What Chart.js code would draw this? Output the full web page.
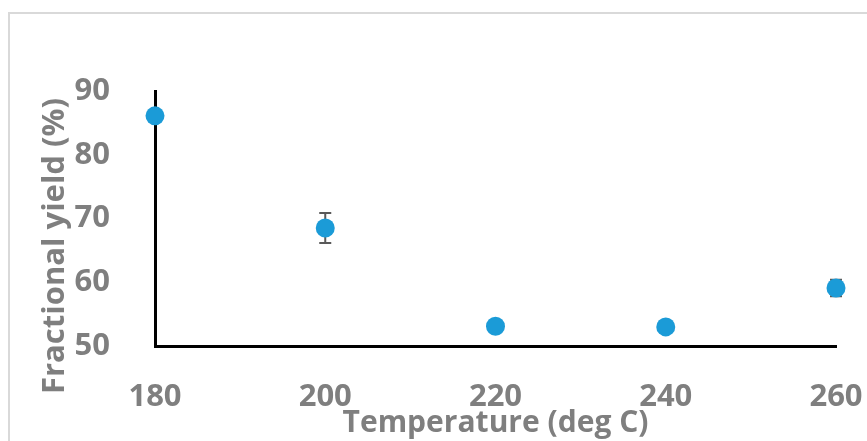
<!DOCTYPE html>
<html>
<head>
<meta charset="utf-8">
<script src="https://cdn.jsdelivr.net/npm/chart.js@4"></script>
<style>
  html, body { margin: 0; padding: 0; background: #fff; }
  #wrap { width: 867px; height: 441px; position: relative; }
</style>
</head>
<body>
<div id="wrap"><canvas id="c" width="867" height="441"></canvas></div>
<script>
const temperatures = [180, 200, 220, 240, 260];
const yields = [86.1, 68.5, 53.1, 53.0, 59.1];
const yieldErrors = [0, 2.35, 0, 0, 1.3];
const xTicks = [180, 200, 220, 240, 260];
const yTicks = [50, 60, 70, 80, 90];
const xTitle = 'Temperature (deg C)';
const yTitle = 'Fractional yield (%)';

const GRAY = '#7f7f7f';
const FONT = "'Open Sans', 'Liberation Sans', sans-serif";

function fitFont(ctx, text, targetWidth) {
  ctx.font = "bold 100px " + FONT;
  const w = ctx.measureText(text).width;
  return 100 * targetWidth / w;
}

const decor = {
  id: 'decor',
  beforeDraw(chart) {
    const ctx = chart.ctx;
    ctx.save();
    ctx.strokeStyle = '#d9d9d9';
    ctx.lineWidth = 2;
    ctx.strokeRect(9, 13, 870, 450);
    ctx.restore();
  },
  beforeDatasetsDraw(chart) {
    const ctx = chart.ctx;
    const xs = chart.scales.x, ys = chart.scales.y;
    ctx.save();
    ctx.strokeStyle = '#595959';
    ctx.lineWidth = 2;
    temperatures.forEach((t, i) => {
      const e = yieldErrors[i];
      if (!e) return;
      const px = xs.getPixelForValue(t);
      const y1 = ys.getPixelForValue(yields[i] + e);
      const y2 = ys.getPixelForValue(yields[i] - e);
      ctx.beginPath();
      ctx.moveTo(px, y1); ctx.lineTo(px, y2);
      ctx.moveTo(px - 6, y1); ctx.lineTo(px + 6, y1);
      ctx.moveTo(px - 6, y2); ctx.lineTo(px + 6, y2);
      ctx.stroke();
    });
    ctx.restore();
  },
  afterDraw(chart) {
    const ctx = chart.ctx;
    const a = chart.chartArea;
    ctx.save();
    ctx.fillStyle = GRAY;
    ctx.textAlign = 'center';
    ctx.textBaseline = 'alphabetic';
    const sx = fitFont(ctx, xTitle, 306);
    ctx.font = "bold " + sx + "px " + FONT;
    ctx.fillText(xTitle, (a.left + a.right) / 2, 411 + 0.714 * sx);
    const sy = fitFont(ctx, yTitle, 296);
    ctx.font = "bold " + sy + "px " + FONT;
    ctx.translate(42 + 0.714 * sy, 246);
    ctx.rotate(-Math.PI / 2);
    ctx.fillText(yTitle, 0, 0);
    ctx.restore();
  }
};

new Chart(document.getElementById('c'), {
  type: 'scatter',
  data: {
    datasets: [{
      data: temperatures.map((t, i) => ({ x: t, y: yields[i] })),
      backgroundColor: '#1b9bd7',
      borderColor: '#1b9bd7',
      pointRadius: 9.5,
      pointHoverRadius: 9.5,
      borderWidth: 0,
      clip: false
    }]
  },
  options: {
    responsive: false,
    animation: false,
    events: [],
    layout: { padding: { left: 0, right: 31, top: 91, bottom: 0 } },
    plugins: { legend: { display: false }, tooltip: { enabled: false } },
    scales: {
      x: {
        type: 'linear',
        min: 180, max: 260,
        afterFit(s) { s.height = 95; s.paddingLeft = 0; s.paddingRight = 0; },
        afterBuildTicks(s) { s.ticks = xTicks.map(v => ({ value: v })); },
        grid: { display: false },
        border: { display: true, color: '#000', width: 3 },
        ticks: { color: GRAY, font: { family: FONT, size: 31, weight: 'bold' }, padding: 25, maxRotation: 0 }
      },
      y: {
        type: 'linear',
        min: 50, max: 90,
        afterFit(s) { s.width = 155; s.paddingTop = 0; s.paddingBottom = 0; },
        afterBuildTicks(s) { s.ticks = yTicks.map(v => ({ value: v })); },
        grid: { display: false },
        border: { display: true, color: '#000', width: 3 },
        ticks: { color: GRAY, font: { family: FONT, size: 31, weight: 'bold' }, padding: 37 }
      }
    }
  },
  plugins: [decor]
});
</script>
</body>
</html>
